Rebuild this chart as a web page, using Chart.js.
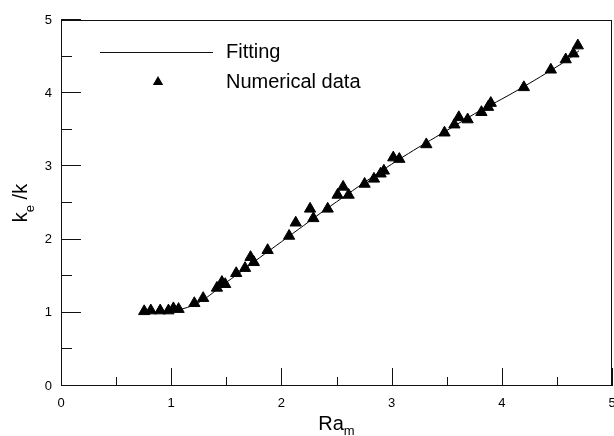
<!DOCTYPE html>
<html>
<head>
<meta charset="utf-8">
<title>ke/k vs Ra_m</title>
<script src="https://cdn.jsdelivr.net/npm/chart.js"></script>
<style>
  body { margin: 0; background: #fff; }
  #wrap { width: 614px; height: 436px; }
</style>
</head>
<body>
<div id="wrap"><canvas id="myChart"></canvas></div>
<script>
// numerical data
const raNum = [0.755, 0.815, 0.90, 0.975, 1.02, 1.067, 1.21, 1.29, 1.415, 1.46, 1.49,
  1.59, 1.67, 1.72, 1.75, 1.875, 2.07, 2.13, 2.26, 2.29, 2.42, 2.51, 2.56, 2.61,
  2.755, 2.84, 2.90, 2.93, 3.015, 3.07, 3.315, 3.48, 3.57, 3.61, 3.69, 3.815,
  3.875, 3.90, 4.20, 4.445, 4.58, 4.65, 4.69];
const keNum = [1.02, 1.03, 1.03, 1.03, 1.06, 1.05, 1.13, 1.20, 1.34, 1.42, 1.39,
  1.54, 1.61, 1.76, 1.69, 1.855, 2.05, 2.23, 2.42, 2.29, 2.42, 2.61, 2.72, 2.61,
  2.76, 2.83, 2.90, 2.94, 3.12, 3.10, 3.30, 3.46, 3.57, 3.67, 3.64, 3.74,
  3.81, 3.865, 4.08, 4.32, 4.46, 4.54, 4.65];

// fitting curve
const raFit = [0.75, 0.85, 0.95, 1.05, 1.15, 1.25, 1.35, 1.45, 1.55, 1.65, 1.8, 2.0,
  2.2, 2.4, 2.6, 2.8, 3.0, 3.2, 3.4, 3.6, 3.8, 4.0, 4.2, 4.4, 4.6, 4.7];
const keFit = [1.00, 1.005, 1.015, 1.035, 1.075, 1.14, 1.24, 1.36, 1.47, 1.58, 1.75, 1.97,
  2.19, 2.41, 2.62, 2.83, 3.03, 3.22, 3.40, 3.58, 3.76, 3.92, 4.09, 4.27, 4.46, 4.58];

const xTicks = [0, 1, 2, 3, 4, 5];
const yTicks = [0, 1, 2, 3, 4, 5];

const FONT = "'Liberation Sans', Arial, sans-serif";

const toPts = (xs, ys) => xs.map((v, i) => ({ x: v, y: ys[i] }));

// frame, inward ticks, legend, axis titles
const decorations = {
  id: 'decorations',
  afterDraw(chart) {
    const { ctx, chartArea: a, scales: { x, y } } = chart;
    ctx.save();
    ctx.strokeStyle = '#111';
    ctx.lineWidth = 1;
    ctx.strokeRect(Math.round(a.left) + 0.5, Math.round(a.top) + 0.5,
      Math.round(a.right - a.left) - 1, Math.round(a.bottom - a.top) - 1);

    ctx.beginPath();
    for (let v = 0; v <= 5.001; v += 0.5) {
      const major = Math.abs(v - Math.round(v)) < 1e-6;
      const px = Math.round(x.getPixelForValue(v)) + 0.5;
      ctx.moveTo(px, a.bottom);
      ctx.lineTo(px, a.bottom - (major ? 18 : 9));
      const py = Math.round(y.getPixelForValue(v)) - 0.5;
      ctx.moveTo(a.left, py);
      ctx.lineTo(a.left + (major ? 20 : 11), py);
    }
    ctx.stroke();

    // legend
    ctx.fillStyle = '#000';
    ctx.beginPath();
    ctx.moveTo(100, 52.5);
    ctx.lineTo(213, 52.5);
    ctx.stroke();
    const r = 6;
    ctx.beginPath();
    ctx.moveTo(158, 82 - r);
    ctx.lineTo(158 + r * 0.866, 82 + r / 2);
    ctx.lineTo(158 - r * 0.866, 82 + r / 2);
    ctx.closePath();
    ctx.fill();
    ctx.font = '20px ' + FONT;
    ctx.textBaseline = 'middle';
    ctx.textAlign = 'left';
    ctx.fillText(chart.data.datasets[1].label, 226, 52);
    ctx.fillText(chart.data.datasets[0].label, 226, 82);

    // x title: Ra_m
    ctx.textBaseline = 'alphabetic';
    ctx.font = '20px ' + FONT;
    const wRa = ctx.measureText('Ra').width;
    ctx.font = '13px ' + FONT;
    const wm = ctx.measureText('m').width;
    let sx = (a.left + a.right) / 2 - (wRa + wm) / 2;
    ctx.font = '20px ' + FONT;
    ctx.fillText('Ra', sx, 430);
    ctx.font = '13px ' + FONT;
    ctx.fillText('m', sx + wRa, 435);

    // y title: k_e /k
    ctx.translate(27, (a.top + a.bottom) / 2);
    ctx.rotate(-Math.PI / 2);
    ctx.font = '20px ' + FONT;
    const wk = ctx.measureText('k').width;
    const wk2 = ctx.measureText(' /k').width;
    ctx.font = '13px ' + FONT;
    const we = ctx.measureText('e').width;
    let s = -(wk + we + wk2) / 2;
    ctx.font = '20px ' + FONT;
    ctx.fillText('k', s, 0);
    ctx.font = '13px ' + FONT;
    ctx.fillText('e', s + wk, 7);
    ctx.font = '20px ' + FONT;
    ctx.fillText(' /k', s + wk + we, 0);
    ctx.restore();
  }
};

const ctx = document.getElementById('myChart').getContext('2d');
const myChart = new Chart(ctx, {
  type: 'scatter',
  data: {
    datasets: [{
      label: 'Numerical data',
      data: toPts(raNum, keNum),
      pointStyle: 'triangle',
      pointRadius: 6.5,
      backgroundColor: '#000',
      borderColor: '#000',
      borderWidth: 1,
      showLine: false
    }, {
      label: 'Fitting',
      data: toPts(raFit, keFit),
      showLine: true,
      borderColor: '#000',
      borderWidth: 1,
      pointRadius: 0,
      tension: 0.3,
      fill: false
    }]
  },
  options: {
    responsive: true,
    maintainAspectRatio: false,
    animation: false,
    layout: { autoPadding: false, padding: { top: 20, right: 2, left: 0, bottom: 0 } },
    plugins: { legend: { display: false }, tooltip: { enabled: false } },
    scales: {
      x: {
        type: 'linear',
        min: 0, max: 5,
        afterBuildTicks: s => { s.ticks = xTicks.map(v => ({ value: v })); },
        afterFit: s => { s.height = 50; s.paddingLeft = 0; s.paddingRight = 0; },
        grid: { display: false, drawTicks: false },
        border: { display: false },
        ticks: { font: { family: FONT, size: 13 }, color: '#000', padding: 10, maxRotation: 0 }
      },
      y: {
        type: 'linear',
        min: 0, max: 5,
        afterBuildTicks: s => { s.ticks = yTicks.map(v => ({ value: v })); },
        afterFit: s => { s.width = 61; s.paddingTop = 0; s.paddingBottom = 0; },
        grid: { display: false, drawTicks: false },
        border: { display: false },
        ticks: { font: { family: FONT, size: 13 }, color: '#000', padding: 9 }
      }
    }
  },
  plugins: [decorations]
});
</script>
</body>
</html>
